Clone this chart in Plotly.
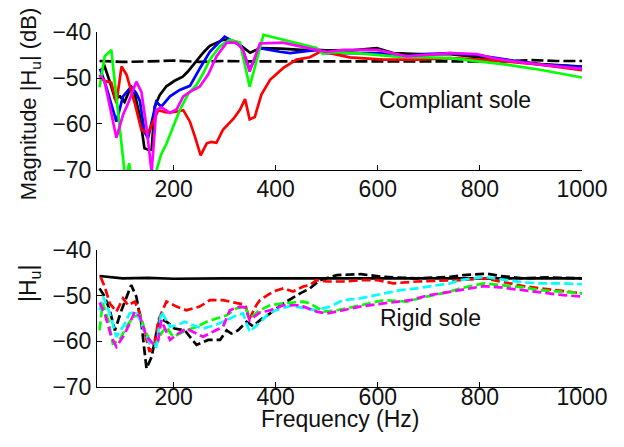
import plotly.graph_objects as go

# ---------------- data: top panel (Compliant sole) ----------------
top_black_f = [57, 65, 75, 85, 95, 104, 114, 124, 134, 143, 150, 157, 163, 173, 186, 202, 218, 228, 245, 258, 271, 297, 310, 330, 350, 370, 410, 450, 480, 500, 550, 598, 630, 680, 742, 800, 860, 920, 1000]
top_black_v = [-48.5, -47.5, -50.8, -54.4, -54, -55.2, -52.6, -53.5, -58.4, -65.3, -65.6, -65.6, -56.2, -53.7, -51.8, -50.6, -49.7, -48.6, -46.3, -44.5, -43, -41.7, -41.7, -42.8, -44.5, -43.5, -43.6, -43.9, -43.9, -44, -44, -43.5, -44.6, -44.8, -44.8, -45.5, -46.3, -47, -47.5]

top_blue_f = [56, 68, 88, 101, 117, 127, 134, 143, 150, 166, 176, 193, 212, 232, 251, 271, 300, 316, 333, 349, 369, 408, 428, 481, 500, 545, 611, 644, 700, 742, 794, 853, 918, 1000]
top_blue_v = [-48, -51.9, -59.5, -54, -51.9, -53.3, -55, -61.7, -63.1, -55.2, -56.2, -54, -52.6, -51.7, -48, -44.3, -41, -42, -43.1, -48.2, -43.5, -44.3, -44.6, -43.9, -44.6, -44.6, -44.6, -45.3, -44.8, -44.6, -45, -46, -47.1, -47.6]

top_green_f = [55, 65, 78, 88, 101, 106, 113, 119, 140, 163, 176, 186, 199, 212, 229, 245, 258, 271, 291, 310, 330, 349, 376, 415, 448, 480, 493, 510, 559, 631, 742, 794, 853, 918, 1000]
top_green_v = [-52, -45.3, -43.9, -54, -67.8, -72.5, -68.5, -73, -80, -71, -66.5, -64.3, -60.8, -57, -53.4, -51.5, -49, -46, -43.1, -41.7, -42.3, -51.9, -40.6, -41.7, -42.6, -43.5, -44.8, -44.4, -44.6, -45.3, -45.7, -46.4, -47.1, -48.2, -49.9]

top_red_f = [55, 65, 78, 88, 98, 108, 124, 137, 150, 160, 170, 186, 202, 219, 232, 242, 253, 265, 274, 284, 297, 317, 330, 340, 349, 359, 372, 389, 415, 441, 467, 487, 506, 545, 611, 676, 742, 800, 853, 918, 1000]
top_red_v = [-49.3, -50.6, -51, -55.5, -47.5, -49.3, -55.5, -61.3, -62, -59.3, -57, -57.5, -57.4, -57, -59.5, -62.8, -66.8, -64.2, -63.9, -64.1, -61.2, -58.9, -56.9, -54.6, -59, -58.5, -53.6, -50.4, -47.8, -46, -45.5, -44.3, -44.6, -45.5, -46, -46, -45.7, -46, -46.4, -47.1, -48.3]

top_magenta_f = [55, 65, 88, 101, 111, 127, 137, 147, 157, 166, 176, 193, 206, 219, 232, 251, 268, 284, 304, 323, 336, 349, 369, 414, 480, 500, 532, 598, 657, 742, 794, 827, 866, 918, 1000]
top_magenta_v = [-49.5, -50.8, -63, -58, -55.5, -50.8, -53, -60.7, -70.5, -57, -56.4, -57.6, -56.8, -54, -53, -51.9, -49.2, -45.3, -42.3, -42.3, -43.9, -48.6, -42.5, -42.3, -43.9, -44.3, -43.9, -43.9, -45.3, -44.6, -44.8, -45.7, -46.4, -47.1, -48.0]

top_ref_f = [55, 100, 150, 200, 250, 300, 350, 400, 500, 600, 700, 800, 850, 900, 950, 1000]
top_ref_v = [-46.3, -46.5, -46.4, -46.2, -46.5, -46.3, -46.4, -46.4, -46.4, -46.4, -46.4, -46.3, -46.4, -46.1, -46.3, -46.3]

# ---------------- data: bottom panel (Rigid sole) ----------------
bot_ref_f = [55, 100, 150, 200, 300, 400, 500, 600, 700, 800, 900, 1000]
bot_ref_v = [-45.7, -46.2, -46.1, -46.3, -46.2, -46.2, -46.2, -46.2, -46.2, -46.2, -46.2, -46.2]

bot_black_f = [55, 65, 75, 85, 98, 108, 117, 127, 137, 147, 157, 166, 173, 186, 202, 222, 245, 268, 291, 304, 313, 326, 343, 356, 369, 389, 415, 448, 467, 487, 520, 567, 611, 676, 742, 768, 814, 840, 885, 934, 1000]
bot_black_v = [-48.4, -50.2, -53.2, -57.6, -53.2, -50.2, -47.7, -50.2, -56.1, -66, -63.4, -58.3, -55, -55.7, -57.2, -57.6, -60.8, -59.7, -59.7, -57.6, -58.3, -57.6, -55.7, -56.7, -55.4, -53.9, -51.7, -49.5, -48.4, -46.6, -45.5, -45.3, -45.9, -46.2, -45.9, -45.5, -45.2, -45.7, -46.2, -46, -46.2]

bot_red_f = [57, 65, 75, 88, 101, 111, 124, 134, 144, 153, 163, 170, 186, 206, 225, 251, 271, 297, 310, 330, 340, 349, 362, 369, 395, 415, 434, 454, 467, 480, 500, 532, 565, 600, 630, 676, 742, 761, 808, 840, 885, 918, 964, 1000]
bot_red_v = [-45.9, -48, -51.7, -53.5, -50.6, -52.1, -51.3, -53.9, -58.3, -62.3, -60.5, -55.4, -51.3, -52.4, -53.2, -52.4, -51, -51, -51.3, -51.7, -52, -55, -52.1, -51, -49.1, -48.4, -49.1, -48, -47.7, -46.6, -46.9, -46.9, -46.6, -46.6, -47.3, -46.9, -46.6, -46.6, -46.2, -46.9, -47.9, -48.4, -49.1, -49.5]

bot_green_f = [55, 61, 72, 81, 94, 108, 121, 134, 144, 153, 166, 176, 186, 199, 212, 225, 245, 265, 284, 304, 323, 340, 349, 369, 389, 415, 454, 467, 494, 520, 567, 611, 657, 696, 742, 761, 808, 840, 885, 918, 964, 1000]
bot_green_v = [-57.6, -51.6, -55.4, -60.5, -59.7, -56.8, -54.6, -54.3, -57.6, -59.7, -60.8, -58.3, -56.8, -59, -58.3, -57.6, -56.8, -55.7, -55, -54.3, -52.8, -52.4, -55, -53.2, -52.1, -51.7, -51.3, -51.7, -53.5, -53.2, -52.1, -51, -51.3, -50.2, -49.1, -48.4, -47.3, -47.7, -48.2, -48.8, -49.1, -49.5]

bot_cyan_f = [55, 62, 75, 88, 101, 114, 127, 140, 153, 166, 176, 193, 206, 222, 238, 258, 281, 304, 323, 336, 349, 369, 389, 430, 480, 506, 532, 565, 611, 644, 676, 742, 761, 808, 840, 885, 918, 964, 1000]
bot_cyan_v = [-53.2, -50.2, -53.9, -59, -56.8, -53.9, -53.5, -57.2, -60.5, -61.2, -53.5, -56.8, -56.5, -55.7, -56.5, -57.2, -56.5, -55.4, -54.3, -53.9, -57.9, -55.9, -53.6, -52.2, -53.2, -52.4, -51, -50.6, -49.5, -48.8, -48.4, -47.3, -46.6, -45.9, -46.4, -47.1, -47.3, -47.3, -47.5]

bot_magenta_f = [55, 65, 78, 88, 101, 111, 124, 134, 147, 160, 170, 176, 193, 209, 225, 245, 258, 277, 297, 310, 330, 340, 349, 369, 389, 415, 448, 480, 500, 532, 565, 611, 664, 696, 742, 761, 808, 840, 885, 918, 964, 1000]
bot_magenta_v = [-51.5, -53.9, -59, -61.2, -59, -56.8, -53.5, -54.6, -59, -60.5, -59.7, -55.4, -59.7, -58.3, -57.2, -58.3, -59, -57.9, -56.8, -53.2, -52.4, -52.6, -55.4, -53.7, -53.2, -52.1, -52.1, -53.5, -53.9, -53.2, -52.4, -51.7, -51, -50, -49.1, -48.8, -47.9, -48.2, -48.8, -49.4, -49.9, -50.2]

x_ticks = [200, 400, 600, 800, 1000]
y_ticks = [-40, -50, -60, -70]

FONT = "Liberation Sans, Arial, Helvetica, sans-serif"
FS = 23
LW = 2.7
DASH = "9px,4px"

fig = go.Figure()

def add(f, v, color, dash, ax):
    fig.add_trace(go.Scatter(
        x=f, y=v, mode="lines",
        line=dict(color=color, width=LW, dash=dash),
        xaxis="x" if ax == 1 else "x2",
        yaxis="y" if ax == 1 else "y2",
        showlegend=False, hoverinfo="skip"))

# top panel
add(top_ref_f, top_ref_v, "#000000", "12px,4px", 1)
add(top_black_f, top_black_v, "#000000", "solid", 1)
add(top_blue_f, top_blue_v, "#0000ff", "solid", 1)
add(top_red_f, top_red_v, "#ff0000", "solid", 1)
add(top_green_f, top_green_v, "#00ff00", "solid", 1)
add(top_magenta_f, top_magenta_v, "#ff00ff", "solid", 1)

# bottom panel
add(bot_ref_f, bot_ref_v, "#000000", "solid", 2)
add(bot_black_f, bot_black_v, "#000000", DASH, 2)
add(bot_red_f, bot_red_v, "#ff0000", DASH, 2)
add(bot_green_f, bot_green_v, "#00ff00", DASH, 2)
add(bot_cyan_f, bot_cyan_v, "#00ffff", DASH, 2)
add(bot_magenta_f, bot_magenta_v, "#ff00ff", DASH, 2)

axis_common = dict(
    showline=True, linecolor="#000000", linewidth=1,
    ticks="inside", ticklen=5, tickcolor="#000000", tickwidth=1,
    showgrid=False, zeroline=False, mirror=False,
    tickfont=dict(family=FONT, size=FS, color="#111111"),
)

fig.update_layout(
    width=616, height=439,
    margin=dict(l=89, r=42, t=24, b=60, autoexpand=False),
    paper_bgcolor="white", plot_bgcolor="white",
    xaxis=dict(domain=[0, 1], anchor="y", range=[50, 1000], tickvals=x_ticks,
               ticklabelstandoff=-2, **axis_common),
    yaxis=dict(domain=[0.6113, 1], range=[-70, -40], tickvals=y_ticks, anchor="x", **axis_common),
    xaxis2=dict(domain=[0, 1], anchor="y2", range=[50, 1000], tickvals=x_ticks,
                ticklabelstandoff=-11, **axis_common),
    yaxis2=dict(domain=[0, 0.386], range=[-70, -40], tickvals=y_ticks, anchor="x2", **axis_common),
    annotations=[
        dict(text="Compliant sole", x=752, y=-54.8, xref="x", yref="y", showarrow=False,
             xanchor="center", yanchor="middle", font=dict(family=FONT, size=FS, color="#111111")),
        dict(text="Rigid sole", x=704, y=-54.8, xref="x2", yref="y2", showarrow=False,
             xanchor="center", yanchor="middle", font=dict(family=FONT, size=FS, color="#111111")),
        dict(text="Frequency (Hz)", x=0.5, y=-0.089, xref="paper", yref="paper", showarrow=False,
             xanchor="center", yanchor="middle", font=dict(family=FONT, size=FS, color="#111111")),
        dict(text="Magnitude |H<sub>u</sub>| (dB)", x=-0.138, y=0.797, xref="paper", yref="paper",
             showarrow=False, textangle=-90, xanchor="center", yanchor="middle",
             font=dict(family=FONT, size=22, color="#111111")),
        dict(text="|H<sub>u</sub>|", x=-0.138, y=0.293, xref="paper", yref="paper",
             showarrow=False, textangle=-90, xanchor="center", yanchor="middle",
             font=dict(family=FONT, size=FS, color="#111111")),
    ],
)

fig.write_html("out.html")
